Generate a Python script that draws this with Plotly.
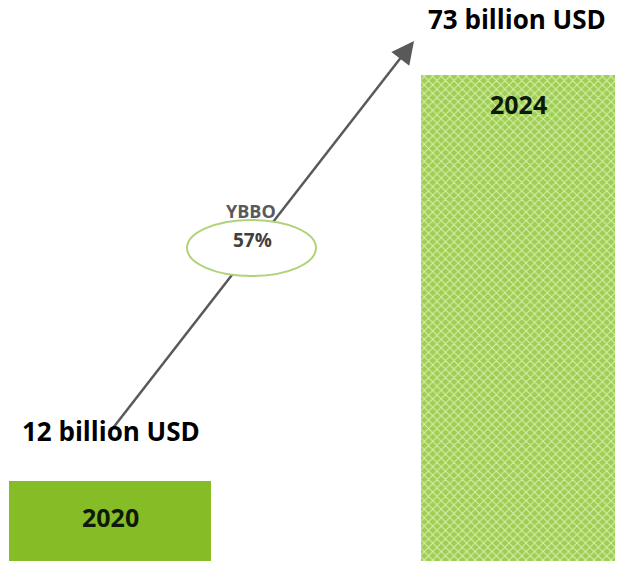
import plotly.graph_objects as go

# Market size, billion USD
years = ["2020", "2024"]
values = [12, 73]
value_labels = ["12 billion USD", "73 billion USD"]
growth_label = "YBBO"
growth_value = "57%"

W, H = 618, 563
bar_bottom_px = 561
px_per_unit = (bar_bottom_px - 75) / 73
y_min = -(H - bar_bottom_px) / px_per_unit
y_max = bar_bottom_px / px_per_unit

# bar centres/widths on a category axis (category spacing = 408 px)
spacing = 408.0
x_lo = -110 / spacing
x_hi = 1 + 100 / spacing
bar_widths = [202 / spacing, 194 / spacing]

fig = go.Figure()
# 2020: solid green bar
fig.add_trace(go.Bar(
    x=[0], y=[values[0]], width=[bar_widths[0]],
    marker=dict(color="#86bc25", line=dict(width=0)),
    hoverinfo="skip", showlegend=False,
))
# 2024: light green cross-hatched bar
fig.add_trace(go.Bar(
    x=[1], y=[values[1]], width=[bar_widths[1]],
    marker=dict(
        color="#9fce55",
        line=dict(width=0),
        pattern=dict(shape="x", fgcolor="#d9f0ae", bgcolor="#9fce55",
                     size=6, solidity=0.3, fillmode="replace"),
    ),
    hoverinfo="skip", showlegend=False,
))

font_main = "Open Sans, Lato, sans-serif"
annotations = []
# value labels above bars
for i, (v, lab) in enumerate(zip(values, value_labels)):
    annotations.append(dict(
        x=i, y=v, xref="x", yref="y", text=f"<b>{lab}</b>",
        showarrow=False, yshift=[50, 56][i], xshift=[1, -1][i],
        font=dict(family=font_main, size=26, color="#000000"),
    ))
# year labels inside bars
annotations.append(dict(
    x=0, y=values[0] / 2, xref="x", yref="y", text=f"<b>{years[0]}</b>",
    showarrow=False, yshift=4,
    font=dict(family=font_main, size=25, color="#0d1a08"),
))
annotations.append(dict(
    x=1, y=values[1], xref="x", yref="y", text=f"<b>{years[1]}</b>",
    showarrow=False, yshift=-29,
    font=dict(family=font_main, size=25, color="#0d1a08"),
))

# growth arrow geometry in pixels
x0p, y0p = 113, 428
x1p, y1p = 414, 41


def px(x):
    return x / W


def py(y):
    return 1 - y / H


shapes = [
    dict(type="line", xref="paper", yref="paper",
         x0=px(x0p), y0=py(y0p), x1=px(x1p - 8), y1=py(y1p + 10),
         line=dict(color="#595959", width=2.5), layer="above"),
    dict(type="circle", xref="paper", yref="paper",
         x0=px(187), x1=px(316), y0=py(220), y1=py(276),
         fillcolor="#ffffff", line=dict(color="#b0d27a", width=2), layer="above"),
]

# arrow head
annotations.append(dict(
    x=px(x1p), y=py(y1p), xref="paper", yref="paper", text="",
    showarrow=True, ax=-13, ay=17, axref="pixel", ayref="pixel",
    arrowhead=2, arrowsize=1.8, arrowwidth=2.5, arrowcolor="#595959",
))
annotations.append(dict(
    x=px(251), y=py(211), xref="paper", yref="paper",
    text=f"<b>{growth_label}</b>", showarrow=False,
    font=dict(family=font_main, size=18, color="#595959"),
))
annotations.append(dict(
    x=px(252), y=py(240), xref="paper", yref="paper",
    text=f"<b>{growth_value}</b>", showarrow=False,
    font=dict(family=font_main, size=19, color="#404040"),
))

fig.update_layout(
    width=W, height=H,
    margin=dict(l=0, r=0, t=0, b=0),
    paper_bgcolor="#ffffff", plot_bgcolor="#ffffff",
    xaxis=dict(range=[x_lo, x_hi], visible=False, fixedrange=True),
    yaxis=dict(range=[y_min, y_max], visible=False, fixedrange=True),
    annotations=annotations,
    shapes=shapes,
    bargap=0,
    barmode="overlay",
)

fig.write_html("out.html", config={"displayModeBar": False})
